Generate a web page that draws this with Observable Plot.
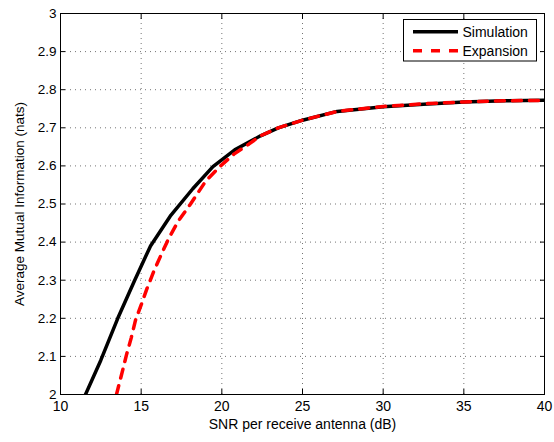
<!DOCTYPE html>
<html>
<head>
<meta charset="utf-8">
<script src="https://cdn.jsdelivr.net/npm/d3@7"></script>
<script src="https://cdn.jsdelivr.net/npm/@observablehq/plot@0.6"></script>
<style>
  html, body { margin: 0; padding: 0; background: #fff; }
  #chart svg { display: block; font-family: "Liberation Sans", Arial, sans-serif; }
</style>
</head>
<body>
<div id="chart"></div>
<script>
const simSNR = [11.55, 12.5, 13.55, 14.6, 15.58, 16.8, 18.2, 19.45, 20.8, 22.4, 23.5, 25, 27.15, 30, 32.5, 35, 37.5, 40];
const simAMI = [2.0, 2.09, 2.2, 2.3, 2.39, 2.468, 2.54, 2.598, 2.642, 2.679, 2.70, 2.72, 2.743, 2.755, 2.762, 2.768, 2.771, 2.772];
const expSNR = [13.47, 13.82, 14.09, 14.38, 14.65, 15.0, 15.37, 15.78, 16.24, 16.71, 17.3, 18.06, 19.0, 19.92, 20.75, 21.67, 22.4, 23.5, 25, 27.15, 30, 32.5, 35, 37.5, 40];
const expAMI = [2.0, 2.058, 2.104, 2.148, 2.195, 2.235, 2.279, 2.323, 2.367, 2.41, 2.455, 2.5, 2.56, 2.6, 2.631, 2.657, 2.679, 2.70, 2.72, 2.743, 2.756, 2.763, 2.768, 2.771, 2.772];
const xTicks = [10, 15, 20, 25, 30, 35, 40];
const yTicks = [2, 2.1, 2.2, 2.3, 2.4, 2.5, 2.6, 2.7, 2.8, 2.9, 3];
const yTickLabels = ["2", "2.1", "2.2", "2.3", "2.4", "2.5", "2.6", "2.7", "2.8", "2.9", "3"];
const seriesNames = ["Simulation", "Expansion"];

const sim = simSNR.map((x, i) => ({x, y: simAMI[i]}));
const exp = expSNR.map((x, i) => ({x, y: expAMI[i]}));
const innerX = xTicks.slice(1, -1);
const innerY = yTicks.slice(1, -1);

const chart = Plot.plot({
  width: 554,
  height: 442,
  marginLeft: 60,
  marginRight: 10,
  marginTop: 13,
  marginBottom: 48,
  style: {fontSize: "14px", fontFamily: "'Liberation Sans', Arial, sans-serif", color: "#000", background: "#fff"},
  x: {domain: [10, 40]},
  y: {domain: [2, 3]},
  marks: [
    Plot.gridX(innerX, {stroke: "#000", strokeOpacity: 0.55, strokeDasharray: "1,4"}),
    Plot.gridY(innerY, {stroke: "#000", strokeOpacity: 0.55, strokeDasharray: "1,4"}),
    Plot.axisX(xTicks, {anchor: "bottom", tickSize: -5, tickPadding: 12, label: "SNR per receive antenna (dB)", labelAnchor: "center", labelArrow: "none", labelOffset: 34, fill: "#000"}),
    Plot.axisX(xTicks, {anchor: "top", tickSize: -5, tickFormat: () => "", label: null}),
    Plot.axisY(yTicks, {anchor: "left", tickSize: -5, tickPadding: 9, tickFormat: (d, i) => yTickLabels[i], label: "Average Mutual Information (nats)", labelAnchor: "center", labelArrow: "none", labelOffset: 46, fill: "#000", fontSize: "13.5px"}),
    Plot.axisY(yTicks, {anchor: "right", tickSize: -5, tickFormat: () => "", label: null}),
    Plot.line(sim, {x: "x", y: "y", stroke: "#000", strokeWidth: 3.5, clip: true}),
    Plot.line(exp, {x: "x", y: "y", stroke: "#ff0000", strokeWidth: 3.5, strokeDasharray: "9,8", clip: true}),
    Plot.frame({stroke: "#000", strokeWidth: 1})
  ]
});

// Legend box inside the plot (MATLAB style)
const svg = d3.select(chart);
const lg = svg.append("g").attr("font-family", "'Liberation Sans', Arial, sans-serif").attr("font-size", 14).attr("text-anchor", "start");
lg.append("rect").attr("x", 403.5).attr("y", 19.5).attr("width", 133).attr("height", 41.5)
  .attr("fill", "#fff").attr("stroke", "#000").attr("stroke-width", 1);
const styles = [{stroke: "#000", dash: null}, {stroke: "#ff0000", dash: "9,9"}];
seriesNames.forEach((name, i) => {
  const cy = 31.7 + i * 19;
  lg.append("line").attr("x1", 413).attr("x2", 458).attr("y1", cy).attr("y2", cy)
    .attr("stroke", styles[i].stroke).attr("stroke-width", 3.5).attr("stroke-dasharray", styles[i].dash);
  lg.append("text").attr("x", 462.5).attr("y", cy).attr("dy", "0.36em").attr("fill", "#000").text(name);
});

document.getElementById("chart").appendChild(chart);
</script>
</body>
</html>
